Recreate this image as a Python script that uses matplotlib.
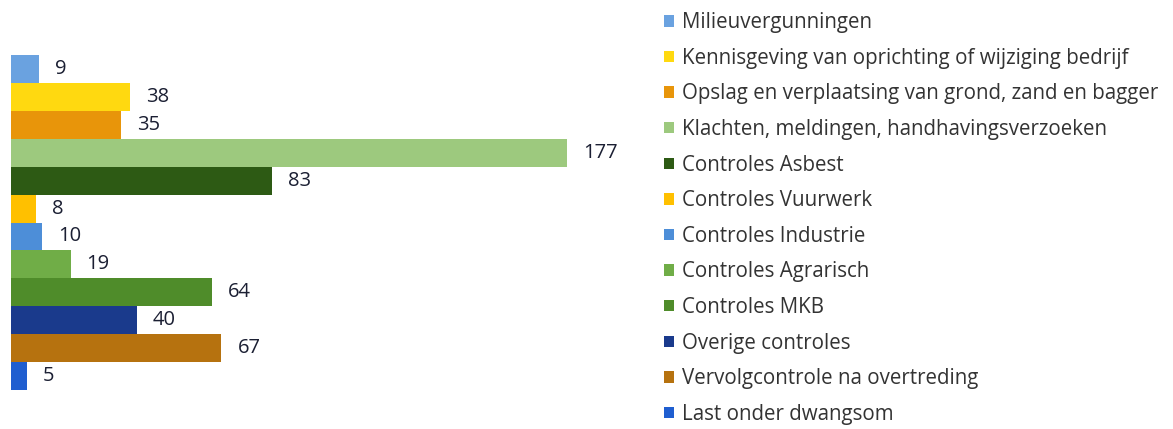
import matplotlib
matplotlib.use("Agg")
import matplotlib.pyplot as plt
from matplotlib.patches import Patch

plt.rcParams['font.family'] = ['Open Sans', 'DejaVu Sans']

categories = [
    "Milieuvergunningen",
    "Kennisgeving van oprichting of wijziging bedrijf",
    "Opslag en verplaatsing van grond, zand en bagger",
    "Klachten, meldingen, handhavingsverzoeken",
    "Controles Asbest",
    "Controles Vuurwerk",
    "Controles Industrie",
    "Controles Agrarisch",
    "Controles MKB",
    "Overige controles",
    "Vervolgcontrole na overtreding",
    "Last onder dwangsom",
]
values = [9, 38, 35, 177, 83, 8, 10, 19, 64, 40, 67, 5]
colors = ["#6aa2e0", "#ffd910", "#e8950a", "#9dc97e", "#2d5a14", "#ffc000",
          "#4d8ed8", "#70ad47", "#4f8c2a", "#1a3a8c", "#b6720f", "#1f5ed0"]

W, H = 1173, 429
fig = plt.figure(figsize=(W / 100, H / 100), dpi=100)
fig.patch.set_facecolor("white")

# axes placed in pixel terms
left, right, top, bottom = 11, 650, 55, 390
ax = fig.add_axes([left / W, 1 - bottom / H, (right - left) / W, (bottom - top) / H])
px_per_unit = 3.14
ax.set_xlim(0, (right - left) / px_per_unit)
ax.set_ylim(len(values) - 0.5, -0.5)
ax.axis("off")

ypos = list(range(len(values)))
ax.barh(ypos, values, height=1.0, color=colors, edgecolor="none")
for y, v in zip(ypos, values):
    ax.annotate(str(v), (v, y), xytext=(16, 0), textcoords="offset pixels",
                va="center", ha="left", fontsize=14.5, color="#1b1f33")

handles = [Patch(facecolor=c, edgecolor="none") for c in colors]
fig.legend(handles, categories, loc="upper left", bbox_to_anchor=(654 / W, 1 - 2 / H),
           frameon=False, fontsize=14.8, handlelength=0.48, handleheight=0.48,
           handletextpad=0.4, labelspacing=0.71, borderpad=0, labelcolor="#333333")

fig.savefig("out.png", dpi=100)
